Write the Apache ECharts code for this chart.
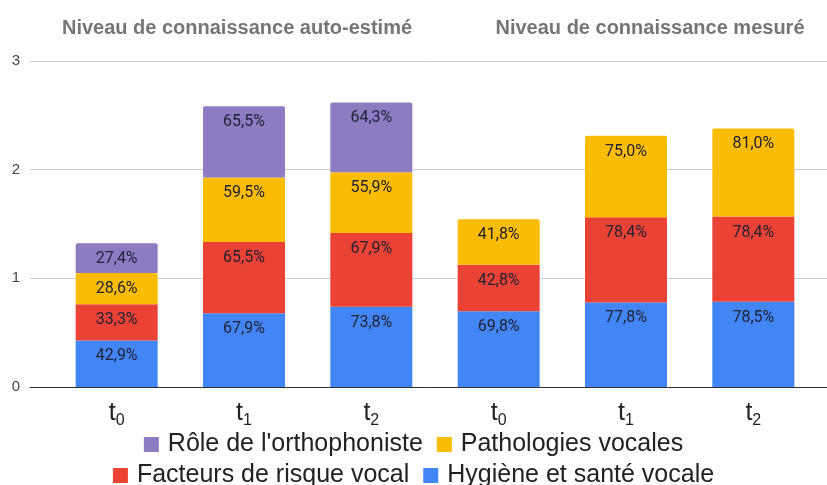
<!DOCTYPE html>
<html>
<head>
<meta charset="utf-8">
<script src="https://cdn.jsdelivr.net/npm/echarts@6/dist/echarts.min.js"></script>
<style>
  html, body { margin: 0; padding: 0; background: #fff; }
  #chart { width: 827px; height: 485px; }
</style>
</head>
<body>
<div id="chart"></div>
<script>
// categories : t0, t1, t2 (auto-estimé) puis t0, t1, t2 (mesuré)
var categories = ['0', '1', '2', '0', '1', '2'];
var hygiene   = [42.9, 67.9, 73.8, 69.8, 77.8, 78.5];
var facteurs  = [33.3, 65.5, 67.9, 42.8, 78.4, 78.4];
var patho     = [28.6, 59.5, 55.9, 41.8, 75.0, 81.0];
var role      = [27.4, 65.5, 64.3, null, null, null];
var yTicks    = [0, 1, 2, 3];

var colors = {
  hygiene: '#4285f4',
  facteurs: '#ea4335',
  patho: '#fbbc04',
  role: '#8e7cc3'
};

var myChart = echarts.init(document.getElementById('chart'));

function pct(p) {
  return p.value == null ? '' : (p.value * 100).toFixed(1).replace('.', ',') + '%';
}

function mkSeries(name, arr, color, top) {
  return {
    name: name,
    type: 'bar',
    stack: 'total',
    xAxisIndex: 1,
    yAxisIndex: 1,
    barWidth: 82,
    data: arr.map(function (v) { return v == null ? null : v / 100; }),
    itemStyle: { color: color, borderRadius: top ? [2, 2, 0, 0] : 0 },
    label: {
      show: true,
      position: 'insideTop',
      distance: 8,
      formatter: pct,
      color: '#222233',
      fontSize: 16,
      fontFamily: 'Roboto'
    },
    emphasis: { disabled: true }
  };
}

var titleStyle = { color: '#757575', fontSize: 20, fontWeight: 'bold', fontFamily: 'Liberation Sans' };
var legendText = { fontSize: 25, color: '#222', fontFamily: 'Liberation Sans', padding: [0, 0, 0, 4] };

var option = {
  animation: false,
  textStyle: { fontFamily: 'Roboto' },
  title: [
    { text: 'Niveau de connaissance auto-estimé', left: 232, top: 13, textAlign: 'center', textStyle: titleStyle },
    { text: 'Niveau de connaissance mesuré', left: 645, top: 13, textAlign: 'center', textStyle: titleStyle }
  ],
  legend: [
    {
      data: ["Rôle de l'orthophoniste", 'Pathologies vocales'],
      left: 'center', top: 427,
      icon: 'rect', itemWidth: 15, itemHeight: 15, itemGap: 14,
      textStyle: legendText
    },
    {
      data: ['Facteurs de risque vocal', 'Hygiène et santé vocale'],
      left: 'center', top: 458,
      icon: 'rect', itemWidth: 15, itemHeight: 15, itemGap: 14,
      textStyle: legendText
    }
  ],
  grid: [
    { left: 30, right: 0, top: 61, bottom: 98 },
    { left: 53, right: 10, top: 61, bottom: 98 }
  ],
  xAxis: [
    {
      gridIndex: 0, type: 'value', min: 0, max: 1,
      axisLine: { show: true, lineStyle: { color: '#333' } },
      axisTick: { show: false }, axisLabel: { show: false }, splitLine: { show: false }
    },
    {
      gridIndex: 1,
      type: 'category',
      data: categories,
      axisLine: { show: false },
      axisTick: { show: false },
      axisLabel: {
        margin: 10,
        formatter: function (v) { return 't{sub|' + v + '}'; },
        color: '#222',
        fontSize: 25,
        fontFamily: 'Liberation Sans',
        rich: {
          sub: { fontSize: 16, color: '#222', verticalAlign: 'bottom', padding: [16, 0, 0, 0], fontFamily: 'Liberation Sans' }
        }
      }
    }
  ],
  yAxis: [
    {
      gridIndex: 0,
      type: 'value',
      min: yTicks[0], max: yTicks[yTicks.length - 1], interval: 1,
      axisLine: { show: false },
      axisTick: { show: false },
      splitLine: { lineStyle: { color: '#cccccc' } },
      axisLabel: { show: true, color: '#444', fontSize: 15, fontFamily: 'Liberation Sans', margin: 10 }
    },
    {
      gridIndex: 1,
      type: 'value',
      min: yTicks[0], max: yTicks[yTicks.length - 1], interval: 1,
      axisLine: { show: false },
      axisTick: { show: false },
      splitLine: { show: false },
      axisLabel: { show: false }
    }
  ],
  series: [
    mkSeries('Hygiène et santé vocale', hygiene, colors.hygiene, false),
    mkSeries('Facteurs de risque vocal', facteurs, colors.facteurs, false),
    mkSeries('Pathologies vocales', patho, colors.patho, true),
    mkSeries("Rôle de l'orthophoniste", role, colors.role, true),
    { type: 'line', xAxisIndex: 0, yAxisIndex: 0, data: [], silent: true }
  ]
};

myChart.setOption(option);
</script>
</body>
</html>
